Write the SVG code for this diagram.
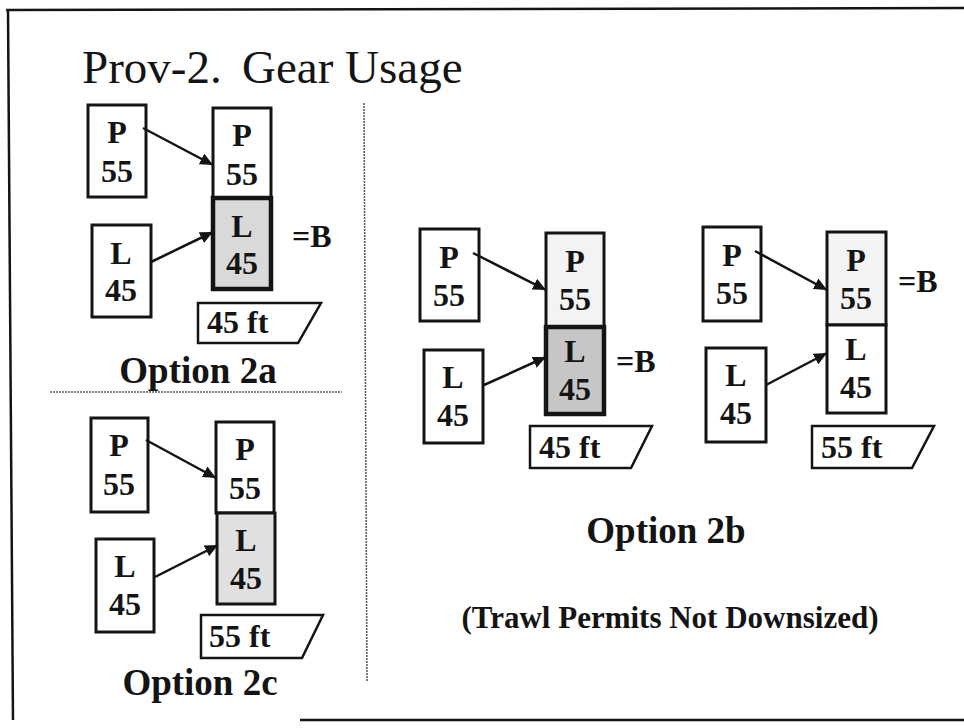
<svg xmlns="http://www.w3.org/2000/svg" width="964" height="728" viewBox="0 0 964 728">
<style>
.bx{fill:#fff;stroke:#141414;stroke-width:3}
.thick{stroke-width:4.5}
.g1{fill:#d9d9d9}
.g2{fill:#c6c6c6}
.g3{fill:#e0e0e0}
.g0{fill:#f3f3f3}
.lb{font-family:"Liberation Serif","Times New Roman",serif;font-weight:bold;font-size:32px;fill:#141414;text-anchor:middle}
.eq{font-family:"Liberation Serif","Times New Roman",serif;font-weight:bold;font-size:32px;fill:#141414}
.ft{font-family:"Liberation Serif","Times New Roman",serif;font-weight:bold;font-size:32px;fill:#141414}
.opt{font-family:"Liberation Serif","Times New Roman",serif;font-weight:bold;font-size:37px;fill:#141414;text-anchor:middle}
.tag{fill:#fff;stroke:#141414;stroke-width:2.5}
.con{stroke:#141414;stroke-width:2.5;fill:none;marker-end:url(#ah)}
.sep{stroke:#555;stroke-width:1.5;stroke-dasharray:2 1;fill:none}
</style>
<defs>
<marker id="ah" markerUnits="userSpaceOnUse" markerWidth="14" markerHeight="12" refX="13" refY="6" orient="auto">
<path d="M0,0 L13,6 L0,12 Z" fill="#141414"/>
</marker>
</defs>
<rect width="964" height="728" fill="#fff"/>
<g id="frame" fill="none" stroke="#141414" stroke-width="2.5">
<path d="M6,10 L964,8"/>
<path d="M8,10 L13,720"/>
<path d="M300,720 L964,720"/>
</g>
<text x="82" y="83" font-family="Liberation Serif,'Times New Roman',serif" font-size="47" fill="#141414"><tspan x="82">Prov-2.</tspan><tspan x="242">Gear Usage</tspan></text>
<g id="separators">
<path class="sep" d="M364,103 L367,682"/>
<path class="sep" d="M50,392 L342,392"/>
</g>

<!-- Option 2a -->
<g id="a-srcP"><rect class="bx" x="88" y="105" width="58" height="92"/><text class="lb" x="117" y="143">P</text><text class="lb" x="117" y="182">55</text></g>
<g id="a-srcL"><rect class="bx" x="92" y="225" width="59" height="92"/><text class="lb" x="121" y="264">L</text><text class="lb" x="121" y="301">45</text></g>
<g id="a-tgtP"><rect class="bx" x="213" y="108" width="58" height="90"/><text class="lb" x="242" y="146">P</text><text class="lb" x="242" y="185">55</text></g>
<g id="a-tgtL"><rect class="bx thick g1" x="213" y="198" width="58" height="91"/><text class="lb" x="242" y="237">L</text><text class="lb" x="242" y="274">45</text></g>
<text class="eq" x="292" y="247">=B</text>
<g id="a-tag"><path class="tag" d="M198,303 L321,303 L298,343 L198,343 Z"/><text class="ft" x="207" y="333">45 ft</text></g>
<text class="opt" x="198" y="383">Option 2a</text>

<!-- Option 2c -->
<g id="c-srcP"><rect class="bx" x="91" y="418" width="57" height="94"/><text class="lb" x="119" y="456">P</text><text class="lb" x="119" y="495">55</text></g>
<g id="c-srcL"><rect class="bx" x="96" y="539" width="58" height="93"/><text class="lb" x="125" y="577">L</text><text class="lb" x="125" y="615">45</text></g>
<g id="c-tgtP"><rect class="bx" x="216" y="422" width="58" height="91"/><text class="lb" x="245" y="460">P</text><text class="lb" x="245" y="499">55</text></g>
<g id="c-tgtL"><rect class="bx g3" x="217" y="513" width="58" height="91"/><text class="lb" x="246" y="551">L</text><text class="lb" x="246" y="589">45</text></g>
<g id="c-tag"><path class="tag" d="M201,615 L323,615 L302,658 L201,658 Z"/><text class="ft" x="209" y="647">55 ft</text></g>
<text class="opt" x="200" y="695">Option 2c</text>

<!-- Option 2b -->
<g id="b-srcP"><rect class="bx" x="420" y="229" width="59" height="92"/><text class="lb" x="449" y="268">P</text><text class="lb" x="449" y="306">55</text></g>
<g id="b-srcL"><rect class="bx" x="424" y="350" width="59" height="93"/><text class="lb" x="453" y="388">L</text><text class="lb" x="453" y="426">45</text></g>
<g id="b-tgtP"><rect class="bx g0" x="546" y="233" width="58" height="94"/><text class="lb" x="575" y="272">P</text><text class="lb" x="575" y="310">55</text></g>
<g id="b-tgtL"><rect class="bx thick g2" x="546" y="327" width="58" height="87"/><text class="lb" x="575" y="362">L</text><text class="lb" x="575" y="400">45</text></g>
<text class="eq" x="616" y="372">=B</text>
<g id="b-tag"><path class="tag" d="M530,426 L652,426 L631,468 L530,468 Z"/><text class="ft" x="539" y="458">45 ft</text></g>

<!-- Option 2b right -->
<g id="d-srcP"><rect class="bx" x="703" y="227" width="58" height="94"/><text class="lb" x="732" y="266">P</text><text class="lb" x="732" y="304">55</text></g>
<g id="d-srcL"><rect class="bx" x="706" y="348" width="60" height="94"/><text class="lb" x="736" y="386">L</text><text class="lb" x="736" y="424">45</text></g>
<g id="d-tgtP"><rect class="bx g0" x="827" y="232" width="59" height="93"/><text class="lb" x="856" y="271">P</text><text class="lb" x="856" y="309">55</text></g>
<g id="d-tgtL"><rect class="bx" x="827" y="325" width="59" height="88"/><text class="lb" x="856" y="360">L</text><text class="lb" x="856" y="398">45</text></g>
<text class="eq" x="898" y="292">=B</text>
<g id="d-tag"><path class="tag" d="M812,426 L934,426 L912,468 L812,468 Z"/><text class="ft" x="821" y="458">55 ft</text></g>

<text class="opt" x="666" y="543">Option 2b</text>
<text class="opt" x="670" y="628" style="font-size:31px">(Trawl Permits Not Downsized)</text>

<g id="connectors">
<path class="con" d="M143,128 L213,165"/>
<path class="con" d="M151,262 L213,232"/>
<path class="con" d="M146,440 L216,478"/>
<path class="con" d="M155,577 L218,545"/>
<path class="con" d="M473,253 L546,290"/>
<path class="con" d="M484,385 L546,357"/>
<path class="con" d="M755,251 L827,290"/>
<path class="con" d="M766,385 L827,353"/>
</g>
</svg>
